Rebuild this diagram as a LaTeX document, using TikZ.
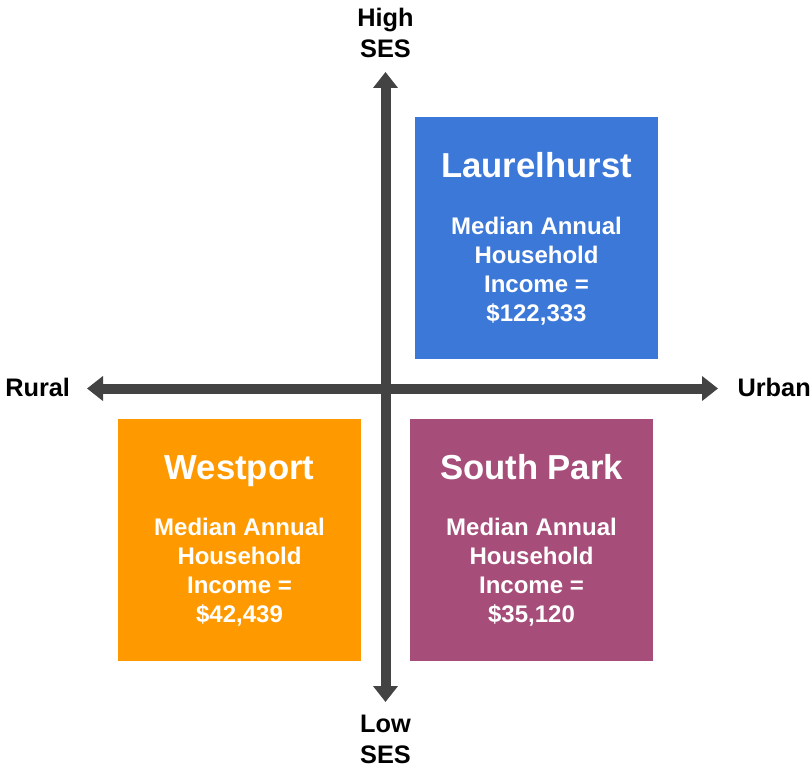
\documentclass[tikz,border=0pt]{standalone}
\usepackage{fontspec}
\setmainfont{Liberation Sans}
\usetikzlibrary{arrows.meta,calc,positioning}

\definecolor{lhblue}{HTML}{3C78D8}
\definecolor{wporange}{HTML}{FF9900}
\definecolor{sppurple}{HTML}{A64D79}
\definecolor{axisgray}{HTML}{434343}

\begin{document}
\begin{tikzpicture}
  [
  x=0.75pt, y=-0.75pt, font=\bfseries,
  axis/.style={line width=7.5pt, draw=axisgray,
    {Triangle[width=18pt,length=12pt]}-{Triangle[width=18pt,length=12pt]}},
  axlabel/.style={inner sep=0pt, align=center, font=\bfseries\fontsize{19}{23}\selectfont},
  quad/.style={rectangle, minimum width=182.25pt, minimum height=181.5pt, inner sep=0pt, draw=none},
  title/.style={inner sep=0pt, text=white, font=\bfseries\fontsize{26}{31}\selectfont},
  info/.style={inner sep=0pt, align=center, text=white, font=\bfseries\fontsize{18}{21.75}\selectfont}
  ]
\useasboundingbox (0,0) rectangle (812,770);

% the two axes
\coordinate (top) at (385.5,72);
\coordinate (bottom) at (385.5,702);
\coordinate (west) at (87,388.5);
\coordinate (east) at (718,388.5);
\draw[axis] (bottom) -- (top);
\draw[axis] (west) -- (east);

\node[axlabel, anchor=north] (high) at (385.5,8) {High\\SES};
\node[axlabel, anchor=north] (low) at (385.5,715) {Low\\SES};
\node[axlabel, anchor=base west] (rural) at (5,396) {Rural};
\node[axlabel, anchor=base east] (urban) at (811,396) {Urban};

% one box per neighbourhood
\foreach \q/\cx/\cy/\col/\ttl/\amt in {%
    lh/536.5/238/lhblue/Laurelhurst/{\$122,333},%
    wp/239.5/539.5/wporange/Westport/{\$42,439},%
    sp/531.5/539.5/sppurple/South Park/{\$35,120}} {
  \node[quad, fill=\col] (\q) at (\cx,\cy) {};
  \node[title, anchor=base] (\q-title) at ($(\q.north)+(0,61)$) {\ttl};
  \node[info, anchor=north] (\q-text) at ($(\q.north)+(0,100)$)
    {Median Annual\\Household\\Income =\\\amt};
}
\end{tikzpicture}
\end{document}
